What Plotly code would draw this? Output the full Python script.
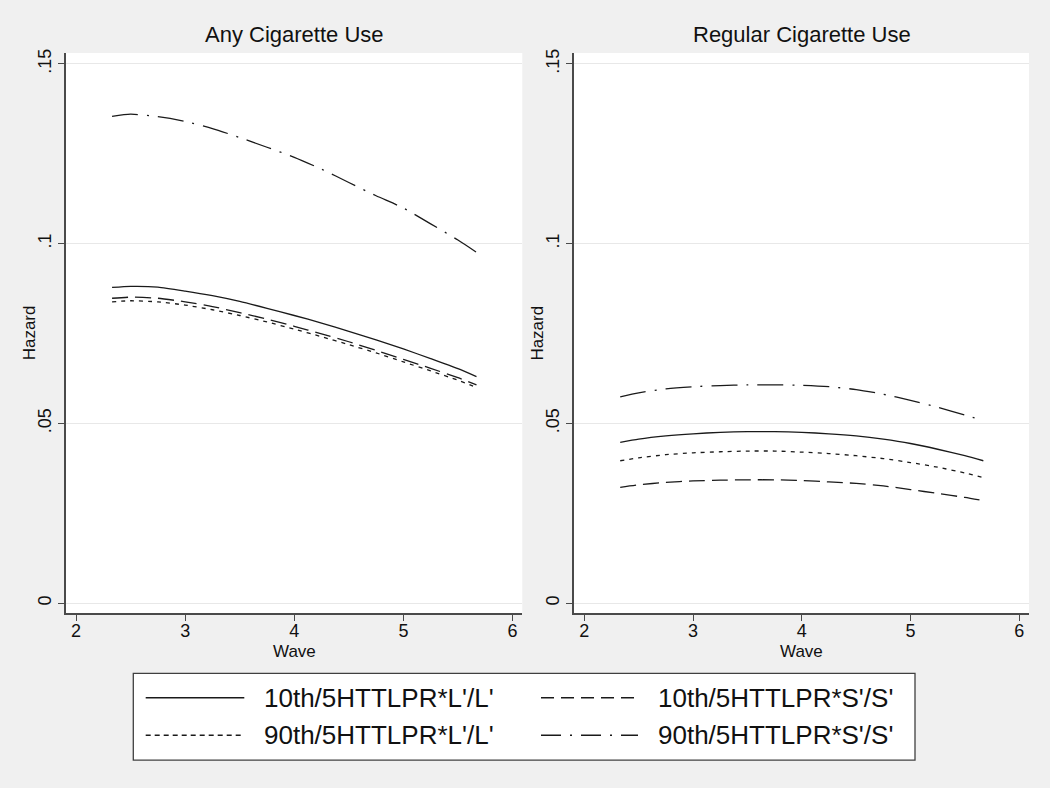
import plotly.graph_objects as go

# ---------------- data ----------------
waves = [2.33, 2.5, 2.75, 3.0, 3.25, 3.5, 3.75, 4.0, 4.25, 4.5, 4.75, 5.0, 5.25, 5.5, 5.67]

# Any Cigarette Use
any_10_LL = [0.0878, 0.0881, 0.0879, 0.0868, 0.0855, 0.0839, 0.0820, 0.0800, 0.0779, 0.0756, 0.0732, 0.0707, 0.0680, 0.0652, 0.0630]
any_10_SS = [0.0848, 0.0851, 0.0848, 0.0838, 0.0825, 0.0808, 0.0790, 0.0770, 0.0749, 0.0727, 0.0703, 0.0678, 0.0653, 0.0627, 0.0607]
any_90_LL = [0.0838, 0.0841, 0.0838, 0.0829, 0.0816, 0.0800, 0.0782, 0.0762, 0.0741, 0.0719, 0.0696, 0.0671, 0.0646, 0.0620, 0.0600]
any_90_SS = [0.1354, 0.1360, 0.1353, 0.1340, 0.1320, 0.1295, 0.1268, 0.1240, 0.1207, 0.1170, 0.1133, 0.1099, 0.1055, 0.1010, 0.0976]

# Regular Cigarette Use
reg_10_LL = [0.0447, 0.0456, 0.0465, 0.0471, 0.0475, 0.0477, 0.0477, 0.0475, 0.0471, 0.0465, 0.0456, 0.0444, 0.0428, 0.0410, 0.0396]
reg_10_SS = [0.0322, 0.0329, 0.0336, 0.0340, 0.0342, 0.0343, 0.0343, 0.0341, 0.0337, 0.0333, 0.0326, 0.0316, 0.0305, 0.0294, 0.0285]
reg_90_LL = [0.0396, 0.0404, 0.0413, 0.0418, 0.0421, 0.0423, 0.0423, 0.0420, 0.0416, 0.0410, 0.0402, 0.0391, 0.0378, 0.0362, 0.0349]
reg_90_SS = [0.0574, 0.0585, 0.0596, 0.0602, 0.0605, 0.0607, 0.0607, 0.0606, 0.0602, 0.0594, 0.0581, 0.0564, 0.0545, 0.0523, 0.0508]

series_names = ["10th/5HTTLPR*L'/L'", "10th/5HTTLPR*S'/S'", "90th/5HTTLPR*L'/L'", "90th/5HTTLPR*S'/S'"]
panel_titles = ["Any Cigarette Use", "Regular Cigarette Use"]
x_title = "Wave"
y_title = "Hazard"
x_ticks = [2, 3, 4, 5, 6]
y_ticks = [0, 0.05, 0.1, 0.15]
y_tick_labels = ["0", ".05", ".1", ".15"]

# ---------------- styling ----------------
W, H = 1050, 788
FONT = "Liberation Sans, Arial, sans-serif"
LINE_COL = "#1a1a1a"
plot_dash = ["solid", "16px,7px", "4px,5px", "26px,9px,2px,9px"]
legend_dash = ["solid", "13px,7px", "5px,4px", "20px,9px,2px,9px"]

def px_x(p):
    return p / W

def px_y(p):
    return 1 - p / H

fig = go.Figure()

panels = [
    ("x", "y", [any_10_LL, any_10_SS, any_90_LL, any_90_SS]),
    ("x2", "y2", [reg_10_LL, reg_10_SS, reg_90_LL, reg_90_SS]),
]
for xa, ya, data in panels:
    for name, vals, dash in zip(series_names, data, plot_dash):
        fig.add_trace(go.Scatter(
            x=waves, y=vals, mode="lines", name=name, xaxis=xa, yaxis=ya,
            line=dict(color=LINE_COL, width=1.3, dash=dash, shape="spline", smoothing=0.6),
            showlegend=False, hoverinfo="skip",
        ))

axis_common = dict(
    showline=True, linecolor="#4a4a4a", linewidth=1.6,
    ticks="outside", ticklen=6, tickwidth=1.3, tickcolor="#4a4a4a",
    tickfont=dict(family=FONT, size=18, color="#111"),
    zeroline=False, mirror=False,
)
xr = [1.905, 6.09]
yr = [-0.0028, 0.153]
ydom = [px_y(612.3), px_y(49.3)]
panel_px = [(65.7, 522.3), (574, 1029)]

xaxis_common = dict(axis_common, range=xr, tickvals=x_ticks, showgrid=False, ticklabelstandoff=-6)
yaxis_common = dict(axis_common, range=yr, tickvals=y_ticks, ticktext=y_tick_labels, tickangle=-90,
                    showgrid=True, gridcolor="#e8e8e8", gridwidth=1)

fig.update_layout(
    width=W, height=H,
    margin=dict(l=0, r=0, t=0, b=0),
    paper_bgcolor="#f0f0f0",
    plot_bgcolor="#ffffff",
    font=dict(family=FONT, color="#111"),
    xaxis=dict(xaxis_common, domain=[px_x(panel_px[0][0]), px_x(panel_px[0][1])], anchor="y"),
    yaxis=dict(yaxis_common, domain=ydom, anchor="x"),
    xaxis2=dict(xaxis_common, domain=[px_x(panel_px[1][0]), px_x(panel_px[1][1])], anchor="y2"),
    yaxis2=dict(yaxis_common, domain=ydom, anchor="x2"),
    showlegend=False,
)

# panel titles and axis titles
for title, (x0, x1) in zip(panel_titles, panel_px):
    fig.add_annotation(text=title, x=px_x((x0 + x1) / 2), y=px_y(30.5), xref="paper", yref="paper",
                       xanchor="center", yanchor="middle", showarrow=False,
                       font=dict(family=FONT, size=22, color="#111"))
    fig.add_annotation(text=x_title, x=px_x((x0 + x1) / 2), y=px_y(650.5), xref="paper", yref="paper",
                       xanchor="center", yanchor="middle", showarrow=False, borderpad=0,
                       font=dict(family=FONT, size=17, color="#111"))
    fig.add_annotation(text=y_title, x=px_x(x0 - 36.5), y=px_y(330.8), xref="paper", yref="paper",
                       xanchor="center", yanchor="middle", showarrow=False, textangle=-90,
                       font=dict(family=FONT, size=17, color="#111"))

# legend box (drawn manually to mimic the Stata legend)
fig.add_shape(type="rect", xref="paper", yref="paper",
              x0=px_x(133.3), x1=px_x(915), y0=px_y(760), y1=px_y(672.7),
              line=dict(color="#404040", width=1.3), fillcolor="#ffffff", layer="below")

legend_pos = [  # (sample x0, sample x1, text x, row y)
    (145.7, 244.3, 261.7, 697.3),
    (541.0, 638.0, 656.0, 697.3),
    (145.7, 244.3, 261.7, 735.0),
    (541.0, 638.0, 656.0, 735.0),
]
for name, dash, (sx0, sx1, tx, ry) in zip(series_names, legend_dash, legend_pos):
    fig.add_shape(type="line", xref="paper", yref="paper",
                  x0=px_x(sx0), x1=px_x(sx1), y0=px_y(ry), y1=px_y(ry),
                  line=dict(color=LINE_COL, width=1.6, dash=dash))
    fig.add_annotation(text=name, x=px_x(tx), y=px_y(ry), xref="paper", yref="paper",
                       xanchor="left", yanchor="middle", showarrow=False,
                       font=dict(family=FONT, size=26, color="#111"))

fig.write_html("out.html", config={"displayModeBar": False},
               post_script="document.body.style.margin='0';document.body.style.background='#f0f0f0';")
